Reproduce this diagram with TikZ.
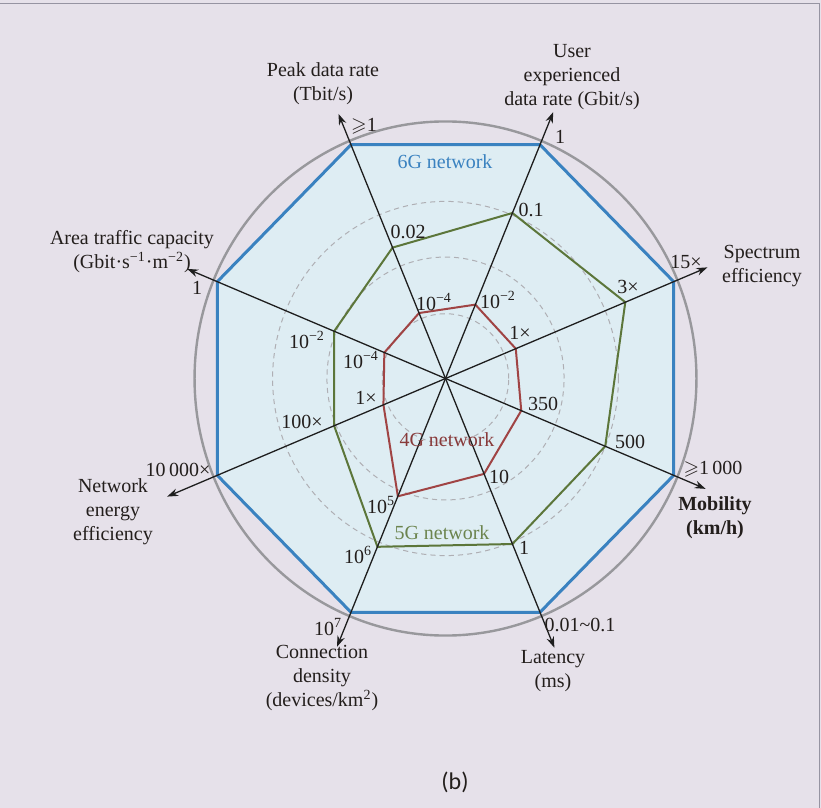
\documentclass[tikz,border=0pt]{standalone}
\usepackage{fontspec}
\usepackage{amssymb}
\setmainfont{Liberation Serif}
\newfontfamily\capfont{Carlito}
\usetikzlibrary{arrows.meta}

\definecolor{panelbg}{RGB}{230,225,234}
\definecolor{framegray}{RGB}{150,148,162}
\definecolor{sixgfill}{RGB}{222,237,243}
\definecolor{sixgline}{RGB}{58,130,192}
\definecolor{ringgray}{RGB}{152,152,156}
\definecolor{dashgray}{RGB}{175,175,180}
\definecolor{fivegline}{RGB}{92,118,58}
\definecolor{fourgline}{RGB}{160,68,68}
\definecolor{axisline}{RGB}{30,30,30}
\definecolor{labeltext}{RGB}{35,30,28}

\tikzset{
  axisarrow/.style={draw=axisline, line width=0.65pt,
    {Stealth[length=5.5pt,width=3.8pt]}-{Stealth[length=5.5pt,width=3.8pt]}},
  ring/.style={draw=ringgray, line width=1.2pt},
  gridring/.style={draw=dashgray, line width=0.5pt, dash pattern=on 2.6pt off 2pt},
  sixg/.style={fill=sixgfill, draw=sixgline, line width=1.5pt, line join=miter},
  fiveg/.style={draw=fivegline, line width=1pt, line join=miter},
  fourg/.style={draw=fourgline, line width=1pt, line join=miter},
  val/.style={font=\fontsize{10}{12}\selectfont, text=labeltext, inner sep=0pt},
  title/.style={val, align=center},
  netname/.style={font=\fontsize{10}{12}\selectfont, inner sep=0pt},
}

\begin{document}
\begin{tikzpicture}[x=0.5pt, y=-0.5pt]
\useasboundingbox (0,0) rectangle (821,808);
\fill[panelbg] (0,0) rectangle (821,808);
\draw[framegray, line width=0.8pt] (0,3.5) -- (819.5,3.5) -- (819.5,808);

\begin{scope}[shift={(445.5,378.5)}, xscale=0.988, yscale=-1.012]
  \coordinate (O) at (0,0);
  % outer reference ring
  \draw[ring] (O) circle[radius=254];
  % 6G network (outer octagon)
  \foreach \a [count=\i] in {112.5,67.5,22.5,-22.5,-67.5,-112.5,-157.5,157.5}
    \coordinate (b\i) at (\a:250);
  \path[sixg] (b1) -- (b2) -- (b3) -- (b4) -- (b5) -- (b6) -- (b7) -- (b8) -- cycle;
  % dashed grid rings
  \foreach \r in {64,120,175}
    \draw[gridring] (O) circle[radius=\r];
  % 5G network
  \coordinate (g1) at (112.5:140);
  \coordinate (g2) at (67.5:177);
  \coordinate (g3) at (22.5:197);
  \coordinate (g4) at (-22.5:175);
  \coordinate (g5) at (-67.5:177);
  \coordinate (g6) at (-112.5:180);
  \coordinate (g7) at (-157.5:122);
  \coordinate (g8) at (157.5:122);
  \draw[fiveg] (g1) -- (g2) -- (g3) -- (g4) -- (g5) -- (g6) -- (g7) -- (g8) -- cycle;
  % 4G network
  \coordinate (r1) at (112.5:70);
  \coordinate (r2) at (67.5:79);
  \coordinate (r3) at (22.5:77);
  \coordinate (r4) at (-22.5:83);
  \coordinate (r5) at (-67.5:102);
  \coordinate (r6) at (-112.5:126);
  \coordinate (r7) at (-157.5:68);
  \coordinate (r8) at (157.5:67);
  \draw[fourg] (r1) -- (r2) -- (r3) -- (r4) -- (r5) -- (r6) -- (r7) -- (r8) -- cycle;
  % axis end points
  \coordinate (tPeak) at (112.5:283);
  \coordinate (tUser) at (67.5:285);
  \coordinate (tSpec) at (22.5:287);
  \coordinate (tMob)  at (-22.5:285);
  \coordinate (tLat)  at (-67.5:288);
  \coordinate (tConn) at (-112.5:287);
  \coordinate (tEner) at (-157.5:305);
  \coordinate (tArea) at (157.5:283);
\end{scope}

% four double-headed axes through the centre
\draw[axisarrow] (tPeak) -- (tLat);
\draw[axisarrow] (tUser) -- (tConn);
\draw[axisarrow] (tSpec) -- (tEner);
\draw[axisarrow] (tArea) -- (tMob);

% axis titles
\node[title] (hPeak) at (323,84) {Peak data rate\\(Tbit/s)};
\node[title] (hUser) at (572,77) {User\\experienced\\data rate (Gbit/s)};
\node[title] (hArea) at (132,252) {Area traffic capacity\\(Gbit·s\textsuperscript{−1}·m\textsuperscript{−2})};
\node[title] (hSpec) at (762,266) {Spectrum\\efficiency};
\node[title, font=\fontsize{10}{12}\selectfont\bfseries] (hMob) at (715,518) {Mobility\\(km/h)};
\node[title] (hLat) at (553,671) {Latency\\(ms)};
\node[title] (hConn) at (322,678) {Connection\\density\\(devices/km\textsuperscript{2})};
\node[title] (hEner) at (113,512) {Network\\energy\\efficiency};

% 6G values
\node[val] (v6a) at (364,126) {$\geqslant$1};
\node[val] (v6b) at (560,137) {1};
\node[val] (v6c) at (686,262) {15×};
\node[val] (v6d) at (713,469) {$\geqslant$1\,000};
\node[val] (v6e) at (580,625) {0.01\textasciitilde0.1};
\node[val] (v6f) at (328,627) {10\textsuperscript{7}};
\node[val] (v6g) at (178,470) {10\,000×};
\node[val] (v6h) at (197,288) {1};

% 5G values
\node[val] (v5a) at (408,232) {0.02};
\node[val] (v5b) at (531,210) {0.1};
\node[val] (v5c) at (628,287) {3×};
\node[val] (v5d) at (630,442) {500};
\node[val] (v5e) at (524,548) {1};
\node[val] (v5f) at (358,555) {10\textsuperscript{6}};
\node[val] (v5g) at (302,422) {100×};
\node[val] (v5h) at (307,340) {10\textsuperscript{−2}};

% 4G values
\node[val] (v4a) at (434,302) {10\textsuperscript{−4}};
\node[val] (v4b) at (498,300) {10\textsuperscript{−2}};
\node[val] (v4c) at (520,333) {1×};
\node[val] (v4d) at (543,404) {350};
\node[val] (v4e) at (499,477) {10};
\node[val] (v4f) at (381,505) {10\textsuperscript{5}};
\node[val] (v4g) at (366,398) {1×};
\node[val] (v4h) at (361,360) {10\textsuperscript{−4}};

% network names
\node[netname, text=sixgline] (n6) at (445,162) {6G network};
\node[netname, text=fourgline!85!black] (n4) at (447,440) {4G network};
\node[netname, text=fivegline!90!white] (n5) at (442,533) {5G network};

% panel tag
\node[inner sep=0pt, text=labeltext, font=\capfont\fontsize{12}{14}\selectfont] (tag) at (455,782) {(b)};
\end{tikzpicture}
\end{document}
